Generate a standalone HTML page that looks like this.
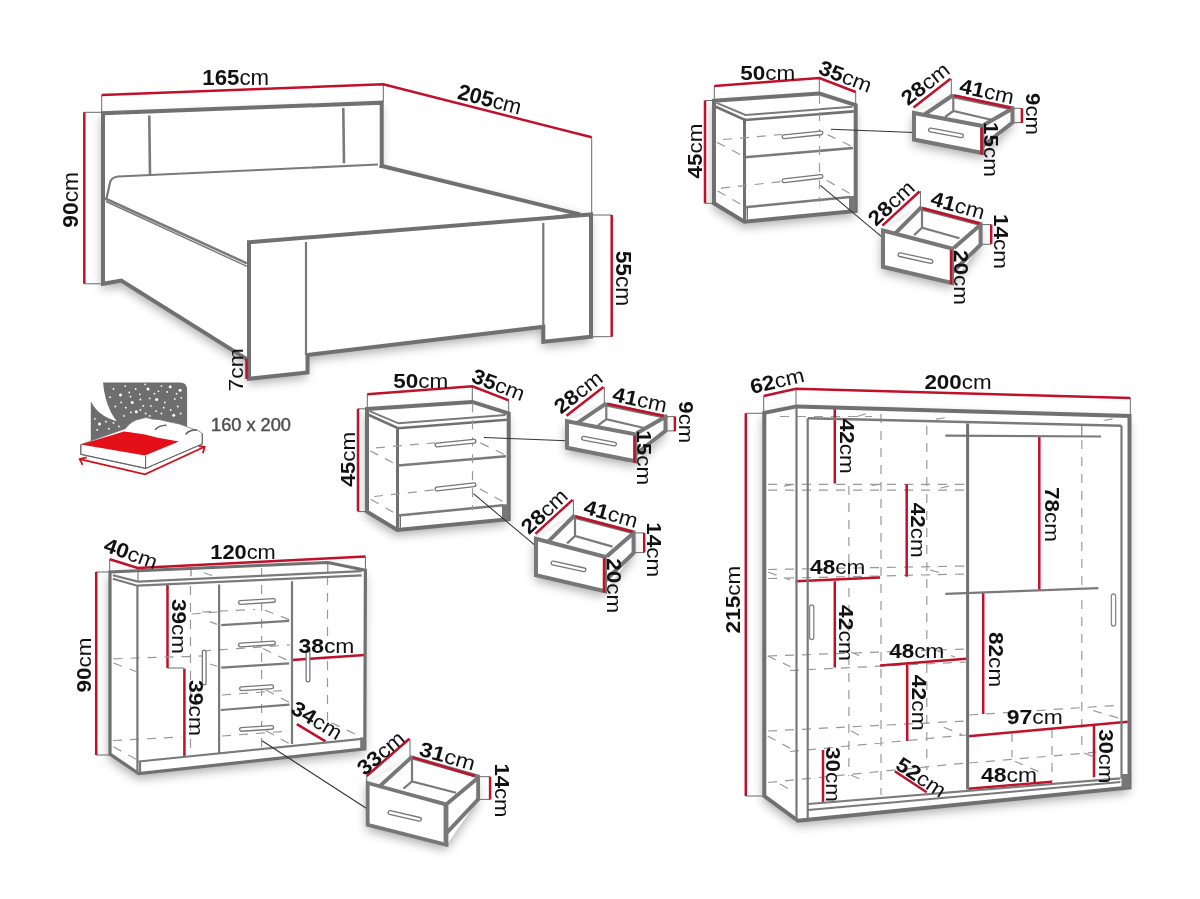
<!DOCTYPE html>
<html><head><meta charset="utf-8"><title>Furniture dimensions</title>
<style>
html,body{margin:0;padding:0;background:#fff;width:1200px;height:899px;overflow:hidden}
svg{display:block}
.k{stroke:#707070;stroke-width:4;fill:none;stroke-linejoin:miter;stroke-linecap:square}
.m{stroke:#7a7a7a;stroke-width:2.2;fill:none}
.t{stroke:#6a6a6a;stroke-width:1;fill:none}
.r{stroke:#c0102a;stroke-width:2.5;fill:none}
.d{stroke:#999;stroke-width:1.2;fill:none;stroke-dasharray:9 8}
text{font-family:"Liberation Sans",sans-serif;fill:#111;font-size:21px}
.b{font-weight:bold}
.hd path{stroke:#777;stroke-width:5;stroke-linecap:round;fill:none}
.hd path+path{stroke:#fff;stroke-width:2.4}
</style></head><body>
<svg width="1200" height="899" viewBox="0 0 1200 899">
<defs>
<filter id="sh" x="-20%" y="-20%" width="140%" height="160%">
 <feGaussianBlur in="SourceAlpha" stdDeviation="5.5"/>
 <feOffset dx="-1" dy="5" result="o"/>
 <feComponentTransfer><feFuncA type="linear" slope="0.34"/></feComponentTransfer>
 <feMerge><feMergeNode/><feMergeNode in="SourceGraphic"/></feMerge>
</filter>
</defs>
<g id="sil" fill="#fff" filter="url(#sh)">
 <path d="M103 113.3L381.7 102.7V166L591 214.5V336.7L543.3 341.7V326.7L307.5 355V372.5L248 378.8L246.3 358.8L121.3 280.5L103 283.8Z"/>
 <g id="nssil">
 <path d="M714 100.8L819.3 93.6L855.7 105.1V211L744.3 221.7L714 203.3Z"/>
 <path d="M914 113L951.9 96L1012.5 108.5V122.5L982.5 153L914 139.5Z"/>
 <path d="M883 230.5L920.4 208.2L980.6 224V244.6L952 283L883 266.8Z"/>
 </g>
 <use href="#nssil" transform="translate(-347 308.3)"/>
 <path d="M110 572L327.8 562.5L365.4 570.3L364.8 748.8L138.7 773.5L110 754.1Z"/>
 <path d="M367.7 783L411.4 757.4L478.1 776.5V799.4L446.5 844.8L367.7 824.8Z"/>
 <path d="M764.3 412.8L796.7 406.4L1129.5 416V787.5L798 820.8L764.3 796Z"/>
</g>
<!-- ============ BED ============ -->
<g id="bed">
  <!-- dimension lines -->
  <path class="t" d="M101.7 95V113 M383.3 84.3V102 M591.7 137.3V214 M84.3 112.3H103 M84.3 283.8H103 M591 215H611.7 M591 336.7H611.7"/>
  <path class="r" d="M101.7 95L383.3 84.3L591.7 137.3 M84.3 112.3V283.8 M611.7 215V336.7"/>
  <!-- headboard -->
  <path class="k" d="M381.7 166V102.7L103 113.3V283.8L121.3 280.5L246.3 358.8"/>
  <path class="m" style="stroke-width:2.6" d="M149.3 115.5L150 175 M343.3 108L344 163.3"/>
  <!-- mattress -->
  <path class="m" d="M378 164.5L118 176.5Q110 177.5 109.5 185L106.5 198.5"/>
  <path class="m" style="stroke-width:2.6" d="M105 198.5L247 263.4"/>
  <path class="m" style="stroke-width:1.4" d="M106 201.5L247 266.4"/>
  <!-- far rail -->
  <path class="k" d="M381.7 166L578.3 214"/>
  <path class="t" d="M540 218.3L578.3 213"/>
  <!-- footboard -->
  <path class="k" d="M249 242.2L591 214.5V336.7L543.3 341.7V326.7L307.5 355V372.5L249 378.8Z"/>
  <path class="r" d="M246.5 358.8V379"/>
  <path class="m" d="M306 242V355 M543.3 223V326.7"/>
</g>
<!-- texts bed -->
<text transform="translate(235.7 77.2)" y="7.8" text-anchor="middle" style="font-size:22px" textLength="66.7" lengthAdjust="spacingAndGlyphs"><tspan class="b">165</tspan>cm</text>
<text transform="translate(489.8 99) rotate(14.3)" y="7.8" text-anchor="middle" style="font-size:22px" textLength="65" lengthAdjust="spacingAndGlyphs"><tspan class="b">205</tspan>cm</text>
<text transform="translate(70.5 199.8) rotate(-90)" y="7.8" text-anchor="middle" style="font-size:22px" textLength="55.7" lengthAdjust="spacingAndGlyphs"><tspan class="b">90</tspan>cm</text>
<text transform="translate(623.7 278.5) rotate(90)" y="7.8" text-anchor="middle" style="font-size:22px" textLength="55.6" lengthAdjust="spacingAndGlyphs"><tspan class="b">55</tspan>cm</text>
<text transform="translate(235.4 369.9) rotate(-90)" y="7.4" text-anchor="middle" style="font-size:21px" textLength="43.1" lengthAdjust="spacingAndGlyphs">7cm</text>
<!-- ============ MATTRESS ICON ============ -->
<g id="icon">
  <path fill="#6e6e6e" d="M103 382.6H180Q187.1 382.6 187.1 390V432H127.5Q106 416 103 382.6Z M90.8 401.3Q100 420 126.4 422.9V446H90.8Z"/>
  <g fill="#fff"><circle cx="113.5" cy="389.0" r="0.9"/><circle cx="120.5" cy="394.9" r="1.5"/><circle cx="125.2" cy="386.1" r="0.9"/><circle cx="129.3" cy="392.5" r="0.9"/><circle cx="135.7" cy="389.0" r="0.9"/><circle cx="139.8" cy="394.3" r="0.9"/><circle cx="148.0" cy="389.0" r="1.5"/><circle cx="156.7" cy="399.5" r="1.5"/><circle cx="158.5" cy="391.3" r="0.9"/><circle cx="167.2" cy="391.9" r="0.9"/><circle cx="170.2" cy="386.7" r="1.5"/><circle cx="180.1" cy="390.2" r="1.5"/><circle cx="174.8" cy="398.9" r="0.9"/><circle cx="181.3" cy="397.8" r="0.9"/><circle cx="130.5" cy="396.6" r="0.9"/><circle cx="121.1" cy="402.4" r="0.9"/><circle cx="132.2" cy="402.4" r="1.5"/><circle cx="143.3" cy="405.9" r="0.9"/><circle cx="150.9" cy="405.9" r="0.9"/><circle cx="164.9" cy="402.4" r="0.9"/><circle cx="177.8" cy="406.5" r="0.9"/><circle cx="115.3" cy="406.5" r="0.9"/><circle cx="125.8" cy="407.7" r="0.9"/><circle cx="136.3" cy="411.8" r="1.5"/><circle cx="145.6" cy="413.5" r="0.9"/><circle cx="156.2" cy="411.2" r="0.9"/><circle cx="161.4" cy="413.5" r="0.9"/><circle cx="173.7" cy="415.3" r="1.5"/><circle cx="180.7" cy="413.5" r="0.9"/><circle cx="94.9" cy="418.8" r="0.9"/><circle cx="99.5" cy="424.0" r="1.5"/><circle cx="108.9" cy="428.7" r="0.9"/><circle cx="113.5" cy="422.9" r="0.9"/><circle cx="118.8" cy="426.4" r="0.9"/><circle cx="105.9" cy="421.7" r="0.9"/><circle cx="149.7" cy="398.4" r="0.9"/><circle cx="140.4" cy="399.5" r="0.9"/><circle cx="110.0" cy="397.2" r="0.9"/><circle cx="161.4" cy="386.1" r="0.9"/><circle cx="145.1" cy="384.3" r="0.9"/><circle cx="154.4" cy="393.7" r="0.9"/><circle cx="170.7" cy="410.0" r="0.9"/><circle cx="105.4" cy="413.5" r="0.9"/><circle cx="97.2" cy="429.9" r="0.9"/><circle cx="124.0" cy="415.9" r="0.9"/><circle cx="131.0" cy="412.4" r="0.9"/><circle cx="140.4" cy="410.0" r="0.9"/><circle cx="149.7" cy="415.9" r="0.9"/><circle cx="163.7" cy="407.7" r="0.9"/><circle cx="176.6" cy="393.7" r="0.9"/></g>
  <path fill="#fff" stroke="#777" stroke-width="0.8" d="M125.2 428.7Q132 420 140 419Q146 416 152 419Q160 419 168.4 421.7Q180 423 191.8 428.7Q199 430 202.3 433.4V443.9L145.6 468.4L80.8 454.4V444.5Z"/>
  <path fill="#e3101a" d="M80.8 444.5L124 431.6L129.9 432.2L145 434.6L156.7 437.5L178.9 441.6L145 455.6Z"/>
  <path fill="none" stroke="#666" stroke-width="1.1" d="M80.8 444.5V454.4L145.6 468.4L202.3 443.9V433.4 M145.6 456V468.4"/>
  <path fill="none" stroke="#666" stroke-width="1.6" stroke-linecap="round" d="M155.6 429.3Q159 425.5 166 425.2 M186 434Q189 430 196.4 429.9"/>
  <path fill="none" stroke="#d2101a" stroke-width="1.8" d="M79.7 459.1L145 474.3L204.6 446.8 M86.7 457.3L79.7 459.1L82.6 464.9 M198.8 446.2L204.6 446.8L202.9 453.2"/>
</g>
<text x="211" y="431" style="font-size:17.5px;fill:#505050;stroke:#505050;stroke-width:0.45" textLength="80" lengthAdjust="spacingAndGlyphs">160 x 200</text>
<!-- ============ NIGHTSTAND (top) ============ -->
<g id="nsall">
<g id="ns">
  <path class="t" d="M714.3 86V100.5 M819.3 78V93.6 M855.7 92V105 M705 100.5H714 M705 203.3H714"/>
  <path class="r" d="M714.3 86L819.4 78L855.7 92 M705 100.5V203.3"/>
  <path class="k" d="M714 100.8L819.3 93.6L855.7 105.1V211L744.3 221.7L714 203.3Z"/>
  <path class="m" style="stroke-width:2" d="M716.5 102.8L745.5 115L852.5 106.8"/>
  <path class="k" style="stroke-width:2.6" d="M716.5 107L745 120L852.5 111.5"/>
  <path class="k" style="stroke-width:3" d="M744.5 120V221"/>
  <path class="m" style="stroke-width:2.6" d="M745 157.2L853 148 M745 207.2L850 197"/>
  <path class="t" style="stroke-width:1.3" d="M747.3 208V219.5"/>
  <path d="M849 196H855.5V211H849Z" fill="#777"/>
  <path class="d" d="M819.5 95V202 M723 139.5L782 134.5 M827.5 134.6L853 147 M717 142.4L742.5 155.8 M721 188.2L782 181.5 M826.8 180.5L850.8 193.9 M717.7 191L742.5 205.2"/>
  <g class="hd"><path d="M784 136.7L821 132.9"/><path d="M784 136.7L821 132.9"/></g>
  <g class="hd"><path d="M784 180.7L821 176.4"/><path d="M784 180.7L821 176.4"/></g>
  <path class="t" style="stroke:#333;stroke-width:1.1" d="M831 129.2L914 132.5 M820.4 185.4L883 237.8"/>
</g>

<text transform="translate(767.7 72)" y="7.5" text-anchor="middle" style="font-size:20.8px" textLength="55" lengthAdjust="spacingAndGlyphs"><tspan class="b">50</tspan>cm</text>
<text transform="translate(845.5 76) rotate(20.9)" y="7.5" text-anchor="middle" style="font-size:20.8px" textLength="55" lengthAdjust="spacingAndGlyphs"><tspan class="b">35</tspan>cm</text>
<text transform="translate(694 151) rotate(-90)" y="7.5" text-anchor="middle" style="font-size:20.8px" textLength="55" lengthAdjust="spacingAndGlyphs"><tspan class="b">45</tspan>cm</text>
<!-- drawer 1 -->
<g id="dr1">
  <path class="t" d="M951.3 78.7V95 M1012.6 108.3H1021.9 M1012.6 122.6H1021.9"/>
  <path class="m" d="M953.3 96V111 M945 117L953.3 111L992.2 120"/>
  <path class="k" style="stroke-width:4;stroke:#777" d="M914 113L982.5 126V153L914 139.5Z M926 113.5L951.9 96L1012.5 108.5V122.5L984 145 M985.5 124L1012.5 108.5"/>
  <path class="r" d="M913.5 107.5L950.5 78.7 M954.3 95.5L1010.8 107.75 M981.5 127.5V154.5 M1021.9 108.3V122.9"/>
  <g class="hd"><path d="M930.5 130L961.5 135.8"/><path d="M930.5 130L961.5 135.8"/></g>
</g>
<!-- drawer 2 -->
<g id="dr2">
  <path class="t" d="M920.4 191V208 M981.2 224.6H991.2 M981.2 244.3H991.2"/>
  <path class="m" d="M922 208.5V227.7 M914.1 235.1L922 227.7L959.5 238.3"/>
  <path class="k" style="stroke-width:4;stroke:#777" d="M883 230.5L952 248.5V283L883 266.8Z M897.2 231.4L920.4 208.2L980.6 224V244.6L953.7 271 M955.3 246.8L979.6 225.6"/>
  <path class="r" d="M882.4 225.6L919.5 191.5 M922.5 208.2L979.6 223.5 M951 249.9V284.3 M991.2 224.6V244.1"/>
  <g class="hd"><path d="M900 254.7L931 261.5"/><path d="M900 254.7L931 261.5"/></g>
</g>
<text transform="translate(925 83.5) rotate(-38)" y="7.5" text-anchor="middle" style="font-size:20.8px" textLength="55" lengthAdjust="spacingAndGlyphs"><tspan class="b">28</tspan>cm</text>
<text transform="translate(987 91) rotate(12.2)" y="7.5" text-anchor="middle" style="font-size:20.8px" textLength="55" lengthAdjust="spacingAndGlyphs"><tspan class="b">41</tspan>cm</text>
<text transform="translate(1033 114) rotate(90)" y="7.5" text-anchor="middle" style="font-size:20.8px" textLength="42" lengthAdjust="spacingAndGlyphs"><tspan class="b">9</tspan>cm</text>
<text transform="translate(991.7 149.5) rotate(90)" y="7.5" text-anchor="middle" style="font-size:20.8px" textLength="55" lengthAdjust="spacingAndGlyphs"><tspan class="b">15</tspan>cm</text>
<text transform="translate(891 202.7) rotate(-43)" y="7.5" text-anchor="middle" style="font-size:20.8px" textLength="55" lengthAdjust="spacingAndGlyphs"><tspan class="b">28</tspan>cm</text>
<text transform="translate(958 205) rotate(15.6)" y="7.5" text-anchor="middle" style="font-size:20.8px" textLength="55" lengthAdjust="spacingAndGlyphs"><tspan class="b">41</tspan>cm</text>
<text transform="translate(1001 241.5) rotate(90)" y="7.5" text-anchor="middle" style="font-size:20.8px" textLength="55" lengthAdjust="spacingAndGlyphs"><tspan class="b">14</tspan>cm</text>
<text transform="translate(961 277.5) rotate(90)" y="7.5" text-anchor="middle" style="font-size:20.8px" textLength="55" lengthAdjust="spacingAndGlyphs"><tspan class="b">20</tspan>cm</text>
</g>
<use href="#nsall" transform="translate(-347 308.3)"/>
<!-- ============ SIDEBOARD ============ -->
<g id="sb">
  <path class="t" d="M109.7 559.3V572 M138 568V581.6 M365.4 556.5V570.3 M191 567.6V576.3 M327.8 562.5V573.5 M96.2 572H110 M96.2 755H110 M167.4 668H184.4"/>
  <path class="r" d="M109.7 559.3L137.7 568L365.4 556.5 M96.2 572V755 M167.5 585V668 M184.4 668.7V756 M292 659.9L364.8 654.9 M296.8 724.1L325.5 741.4"/>
  <path class="d" d="M190.5 586V757 M261.6 568V748 M327.5 576V722 M113.5 658.8L204.7 655.9 M191.7 614L217.7 612 M113 740.5L181.5 737 M113.5 663L136.7 671.8 M113.4 746.8L137.4 760 M202 612L255 609.5 M265 610.3L290.7 620.2 M209.9 621.6L217 624.4 M202 651L290 645 M263 648.5L290.7 662 M210 664L217 666.2 M266 690L290 702.7 M266 730.7L290 744 M331.5 722.8L359.5 736.1 M204 572.8L212 575.8 M222 695L290 690 M222 736L290 731"/>
  <path class="k" style="stroke-width:3.2" d="M365.4 570.3L327.8 562.5L110 572V754.1L138.7 773.5L364.8 748.8Z"/>
  <path d="M360.2 737.4H365V748.8H360.2Z" fill="#777"/>
  <path class="m" d="M112.8 575.2L138 581.6L361.7 571.2 M112.8 578.7L137.4 585.7L361.7 575.3 M137.4 585.7V773.5 M219.1 584.5V752.5 M292 581.3V744 M138.7 761.5L362.2 738.8 M140 761.5V773 M221.2 625.2L289.2 620.9 M221.2 667.6L289.2 663.4 M220.8 710L289.4 704.7"/>
  <g class="hd"><path d="M240.5 602.5L273.5 600.4"/><path d="M240.5 602.5L273.5 600.4"/></g><g class="hd"><path d="M240.5 645L273.5 642.9"/><path d="M240.5 645L273.5 642.9"/></g><g class="hd"><path d="M241.5 688.7L271.7 686.7"/><path d="M241.5 688.7L271.7 686.7"/></g><g class="hd"><path d="M241.5 729.4L271.7 727.4"/><path d="M241.5 729.4L271.7 727.4"/></g>
  <g class="hd"><path d="M204.2 652V683"/><path d="M204.2 652V683"/></g>
  <g class="hd"><path d="M308 651V680"/><path d="M308 651V680"/></g>
  <path class="t" style="stroke:#333;stroke-width:1.1" d="M262 740.8L367 808.8"/>
</g>
<text transform="translate(131 553) rotate(20)" y="7.5" text-anchor="middle" style="font-size:20.8px" textLength="55" lengthAdjust="spacingAndGlyphs"><tspan class="b">40</tspan>cm</text><text transform="translate(243 551.7)" y="7.5" text-anchor="middle" style="font-size:20.8px" textLength="65.5" lengthAdjust="spacingAndGlyphs"><tspan class="b">120</tspan>cm</text><text transform="translate(83 665) rotate(-90)" y="7.5" text-anchor="middle" style="font-size:20.8px" textLength="55" lengthAdjust="spacingAndGlyphs"><tspan class="b">90</tspan>cm</text><text transform="translate(179 626.5) rotate(90)" y="7.5" text-anchor="middle" style="font-size:20.8px" textLength="55" lengthAdjust="spacingAndGlyphs"><tspan class="b">39</tspan>cm</text><text transform="translate(196.8 708) rotate(90)" y="7.5" text-anchor="middle" style="font-size:20.8px" textLength="56" lengthAdjust="spacingAndGlyphs"><tspan class="b">39</tspan>cm</text><text transform="translate(326.4 645.7)" y="7.5" text-anchor="middle" style="font-size:20.8px" textLength="56" lengthAdjust="spacingAndGlyphs"><tspan class="b">38</tspan>cm</text><text transform="translate(317 720) rotate(31)" y="7.5" text-anchor="middle" style="font-size:20.8px" textLength="55" lengthAdjust="spacingAndGlyphs"><tspan class="b">34</tspan>cm</text>
<!-- small drawer -->
<g id="dr3">
  <path class="t" d="M410 738.7V757.4 M366.7 776V782 M478.1 776.7H490.1 M478.1 799.4H490.1"/>
  <path class="m" d="M412 757.4V781.4 M403.4 788.7L412 781.4L456.1 792.7 M382.7 787.4L445.4 803.4 M444.7 806V842"/>
  <path class="k" style="stroke-width:3.8;stroke:#777" d="M367.7 783L446.5 804.7V844.8L367.7 824.8Z M380 786L411.4 757.4L478.1 776.5V799.4L447.4 832.1 M446.7 804L476.1 779.4"/>
  <path class="r" d="M366.7 776L409.4 738.7 M412.7 757.4L474.8 776 M490.1 776.7V799.4"/>
  <g class="hd"><path d="M390 812.5L419.5 819.3"/><path d="M390 812.5L419.5 819.3"/></g>
</g>
<text transform="translate(380.5 752.7) rotate(-40.5)" y="7.5" text-anchor="middle" style="font-size:20.8px" textLength="55" lengthAdjust="spacingAndGlyphs"><tspan class="b">33</tspan>cm</text><text transform="translate(447.5 755.8) rotate(15.8)" y="7.5" text-anchor="middle" style="font-size:20.8px" textLength="57" lengthAdjust="spacingAndGlyphs"><tspan class="b">31</tspan>cm</text><text transform="translate(502 790.5) rotate(90)" y="7.5" text-anchor="middle" style="font-size:20.8px" textLength="54" lengthAdjust="spacingAndGlyphs"><tspan class="b">14</tspan>cm</text>


<!-- ============ WARDROBE ============ -->
<g id="wr">
  <path class="t" d="M763.7 396V413 M796 388.7V406 M1130.3 397.9V416 M745.8 413.3H764 M745.8 796H764 M1081.8 426V436"/>
  <path class="d" d="M780 416.5H872 M936 419.2L947 417.4 M857 416.5L866 413.7 M1103.7 420.5L1113.5 418.7
   M848.9 486V776 M881 414V795 M926.8 426V770 M1081.8 440V590 M1081.8 600V749 M1012 716V757 M1052 729V781
   M768 484.3H966 M768 490.2H966 M783.8 486.2L793 484.7 M871.8 485.3L881 484 M940.6 488L948.8 486.2
   M768 569.5L966 566 M768 578.5L966 574 M768 572L790 580 M930 570L945 574
   M768 656L966 649 M790 670.5L966 662 M767.6 656L790.7 666.7 M851 652L866 659 M935 650L955 657
   M768 731L966 721 M790 751.5L966 735 M767.6 736L790.7 748.6 M851 730.8L863.7 737.9 M943.8 727.2L961.6 734.4
   M768 782.5L966 763 M780 784L792 791 M851 775L866 782
   M969 715L1122 705 M969 763L1122 750 M1093 710.5L1123 719.4 M1084 753L1093 756.7 M1014.7 761.2L1043 773.6"/>
  <path class="r" d="M763.7 396L796 388.7L1130.3 397.9 M745.8 413.3V796 M834.8 407.3V483.4 M906.7 484.3V576.7 M795.7 581.3L880.1 577.6 M834.8 581.3V667.4 M880.1 665.6L966.3 658.8 M907.2 664.7V740.9 M823 750V803 M894.8 771.3L926.7 792.3 M1039.3 436V590.3 M983.2 592.9V714 M968.5 736.3L1127.8 721.7 M1094 725.6V777.2 M968.5 788.8L1052.1 781.7"/>
  <path class="k" d="M1129.5 787.5V416L796.7 406.4L764.3 412.8V796L798 820.8Z"/>
  <path class="m" d="M796.5 407V820 M807.7 418.3V818 M1121.5 425.8V778 M945.3 435.6L1101 436.5 M945.3 593.8L1098.4 588.1 M808 804L1120.5 778.4 M808 810L1120.5 782"/>
  <path class="m" style="stroke-width:2.6" d="M808 418.3L1121.5 425.8"/>
  <path class="k" style="stroke-width:3" d="M967.6 425V788"/>
  <path d="M1121.5 774H1129.5V787.5H1121.5Z" fill="#777"/>
  <rect x="809.6" y="605" width="4.2" height="34.6" rx="2.1" fill="#fff" stroke="#888" stroke-width="1.3"/>
  <rect x="1111.4" y="594" width="4.2" height="32" rx="2.1" fill="#fff" stroke="#888" stroke-width="1.3"/>
</g>
<text transform="translate(958 381.2)" y="7.5" text-anchor="middle" style="font-size:20.8px" textLength="67.2" lengthAdjust="spacingAndGlyphs"><tspan class="b">200</tspan>cm</text>
<text transform="translate(777 380.5) rotate(-13)" y="7.5" text-anchor="middle" style="font-size:20.8px" textLength="55" lengthAdjust="spacingAndGlyphs"><tspan class="b">62</tspan>cm</text>
<text transform="translate(732 599.6) rotate(-90)" y="7.5" text-anchor="middle" style="font-size:20.8px" textLength="67.6" lengthAdjust="spacingAndGlyphs"><tspan class="b">215</tspan>cm</text>
<text transform="translate(847 446.3) rotate(90)" y="7.5" text-anchor="middle" style="font-size:20.8px" textLength="55.3" lengthAdjust="spacingAndGlyphs"><tspan class="b">42</tspan>cm</text>
<text transform="translate(918.1 530.2) rotate(90)" y="7.5" text-anchor="middle" style="font-size:20.8px" textLength="55" lengthAdjust="spacingAndGlyphs"><tspan class="b">42</tspan>cm</text>
<text transform="translate(837.7 566.9)" y="7.5" text-anchor="middle" style="font-size:20.8px" textLength="55.2" lengthAdjust="spacingAndGlyphs"><tspan class="b">48</tspan>cm</text>
<text transform="translate(846.1 633) rotate(90)" y="7.5" text-anchor="middle" style="font-size:20.8px" textLength="56" lengthAdjust="spacingAndGlyphs"><tspan class="b">42</tspan>cm</text>
<text transform="translate(916.8 650.5)" y="7.5" text-anchor="middle" style="font-size:20.8px" textLength="55" lengthAdjust="spacingAndGlyphs"><tspan class="b">48</tspan>cm</text>
<text transform="translate(919.3 702.8) rotate(90)" y="7.5" text-anchor="middle" style="font-size:20.8px" textLength="56" lengthAdjust="spacingAndGlyphs"><tspan class="b">42</tspan>cm</text>
<text transform="translate(833.5 774.5) rotate(90)" y="7.5" text-anchor="middle" style="font-size:20.8px" textLength="55" lengthAdjust="spacingAndGlyphs"><tspan class="b">30</tspan>cm</text>
<text transform="translate(921.3 776.8) rotate(33.4)" y="7.5" text-anchor="middle" style="font-size:20.8px" textLength="55" lengthAdjust="spacingAndGlyphs"><tspan class="b">52</tspan>cm</text>
<text transform="translate(1052.4 514.5) rotate(90)" y="7.5" text-anchor="middle" style="font-size:20.8px" textLength="54.9" lengthAdjust="spacingAndGlyphs"><tspan class="b">78</tspan>cm</text>
<text transform="translate(996.5 659.6) rotate(90)" y="7.5" text-anchor="middle" style="font-size:20.8px" textLength="55.2" lengthAdjust="spacingAndGlyphs"><tspan class="b">82</tspan>cm</text>
<text transform="translate(1034.7 716.3)" y="7.5" text-anchor="middle" style="font-size:20.8px" textLength="56" lengthAdjust="spacingAndGlyphs"><tspan class="b">97</tspan>cm</text>
<text transform="translate(1106.9 756.3) rotate(90)" y="7.5" text-anchor="middle" style="font-size:20.8px" textLength="54.2" lengthAdjust="spacingAndGlyphs"><tspan class="b">30</tspan>cm</text>
<text transform="translate(1009 774.5)" y="7.5" text-anchor="middle" style="font-size:20.8px" textLength="56" lengthAdjust="spacingAndGlyphs"><tspan class="b">48</tspan>cm</text>
</svg>
</body></html>
